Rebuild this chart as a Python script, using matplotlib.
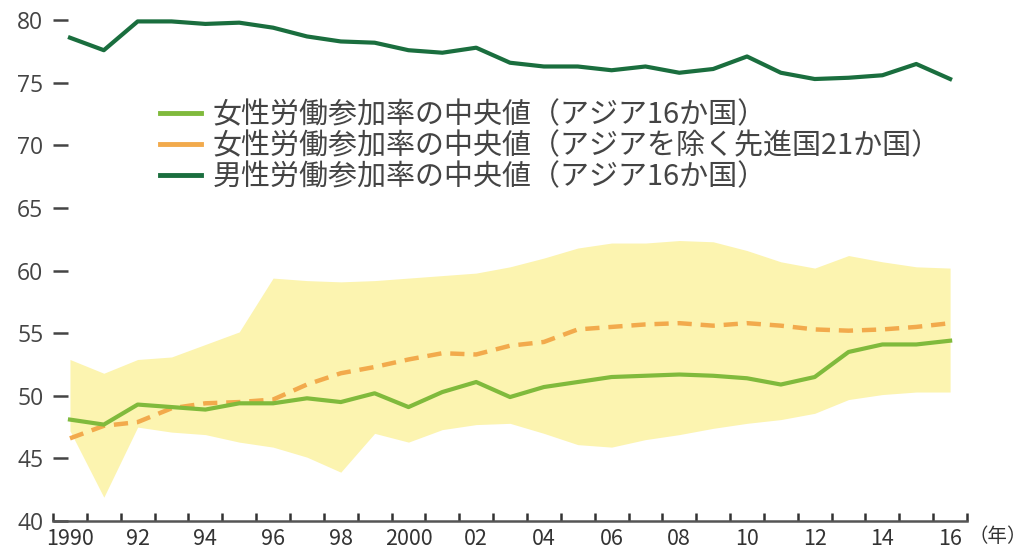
import numpy as np
import matplotlib
matplotlib.use('Agg')
import matplotlib.pyplot as plt
from matplotlib.lines import Line2D

plt.rcParams['font.family'] = ['Noto Sans CJK JP', 'DejaVu Sans']

years = list(range(1990, 2017))

# 男性労働参加率の中央値（アジア16か国）
male_asia = [78.6, 77.6, 79.9, 79.9, 79.7, 79.8, 79.4, 78.7, 78.3, 78.2,
             77.6, 77.4, 77.8, 76.6, 76.3, 76.3, 76.0, 76.3, 75.8, 76.1,
             77.1, 75.8, 75.3, 75.4, 75.6, 76.5, 75.3]

# 女性労働参加率の中央値（アジア16か国）
female_asia = [48.1, 47.7, 49.3, 49.1, 48.9, 49.4, 49.4, 49.8, 49.5, 50.2,
               49.1, 50.3, 51.1, 49.9, 50.7, 51.1, 51.5, 51.6, 51.7, 51.6,
               51.4, 50.9, 51.5, 53.5, 54.1, 54.1, 54.4]

# 女性労働参加率の中央値（アジアを除く先進国21か国）
female_adv = [46.6, 47.6, 47.9, 49.0, 49.4, 49.5, 49.7, 50.9, 51.8, 52.3,
              52.9, 53.4, 53.3, 54.0, 54.3, 55.3, 55.5, 55.7, 55.8, 55.6,
              55.8, 55.6, 55.3, 55.2, 55.3, 55.5, 55.8]

# 網掛けの範囲（上限・下限）
band_upper = [52.9, 51.8, 52.9, 53.1, 54.1, 55.1, 59.4, 59.2, 59.1, 59.2,
              59.4, 59.6, 59.8, 60.3, 61.0, 61.8, 62.2, 62.2, 62.4, 62.3,
              61.6, 60.7, 60.2, 61.2, 60.7, 60.3, 60.2]
band_lower = [47.2, 41.9, 47.5, 47.1, 46.9, 46.3, 45.9, 45.1, 43.9, 47.0,
              46.3, 47.3, 47.7, 47.8, 47.0, 46.1, 45.9, 46.5, 46.9, 47.4,
              47.8, 48.1, 48.6, 49.7, 50.1, 50.3, 50.3]

yticks = [40, 45, 50, 55, 60, 65, 70, 75, 80]
xlabel_years = list(range(1990, 2017, 2))
xlabels = ['1990', '92', '94', '96', '98', '2000', '02', '04', '06', '08',
           '10', '12', '14', '16']

c_band = '#fcf4b0'
c_fa = '#80ba3c'
c_adv = '#f2aa4c'
c_male = '#1a6e3e'

fig = plt.figure(figsize=(10.28, 5.58), dpi=100)
ax = fig.add_axes([0.0516, 0.0663, 0.8891, 0.92])

ax.fill_between(years, band_lower, band_upper, color=c_band, lw=0)
ax.plot(years, female_adv, color=c_adv, lw=3.2, dashes=(3.2, 2.0))
ax.plot(years, female_asia, color=c_fa, lw=3.0)
ax.plot(years, male_asia, color=c_male, lw=3.0)

ax.set_xlim(1989.5, 2016.5)
ax.set_ylim(40, 81)

for s in ['top', 'right', 'left']:
    ax.spines[s].set_visible(False)
ax.spines['bottom'].set_color('#555555')
ax.spines['bottom'].set_linewidth(1.8)

ax.set_yticks(yticks)
ax.tick_params(axis='y', direction='in', length=11, width=1.8, color='#444444',
               labelsize=16.5, labelcolor='#444444', pad=7)
for lab in ax.get_yticklabels():
    lab.set_fontfamily(['Open Sans', 'DejaVu Sans'])

bounds = np.arange(1989.5, 2017.0, 1.0)
ax.set_xticks(bounds)
ax.set_xticklabels([''] * len(bounds))
ax.tick_params(axis='x', which='major', direction='in', length=6, width=1.8,
               color='#333333')
ax.set_xticks(xlabel_years, minor=True)
ax.set_xticklabels(xlabels, minor=True)
ax.tick_params(axis='x', which='minor', length=0, labelsize=15.5,
               labelcolor='#333333', pad=5)

fig.text(0.942, 0.02, '（年）', fontsize=14, color='#333333', ha='left',
         va='bottom')

handles = [Line2D([], [], color=c_fa, lw=3.5),
           Line2D([], [], color=c_adv, lw=3.5),
           Line2D([], [], color=c_male, lw=3.5)]
labels = ['女性労働参加率の中央値（アジア16か国）',
          '女性労働参加率の中央値（アジアを除く先進国21か国）',
          '男性労働参加率の中央値（アジア16か国）']
leg = ax.legend(handles, labels, loc='upper left', bbox_to_anchor=(0.117, 0.82),
                frameon=False, fontsize=20.9, handlelength=1.4,
                handletextpad=0.4, labelspacing=0.03, borderpad=0,
                borderaxespad=0)
for t in leg.get_texts():
    t.set_color('#444444')

fig.savefig('out.png', dpi=100)
